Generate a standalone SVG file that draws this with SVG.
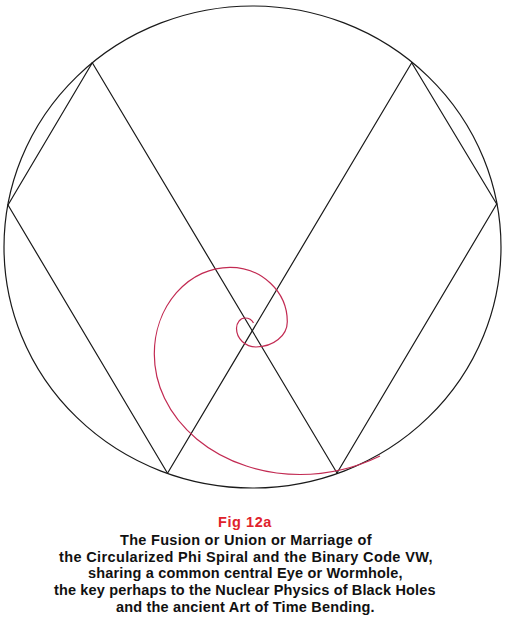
<svg xmlns="http://www.w3.org/2000/svg" width="510" height="628" viewBox="0 0 510 628">
<style>
.ln{fill:none;stroke:#1a1a1a;stroke-width:1.2;stroke-linecap:round;stroke-linejoin:round}
.sp{fill:none;stroke:#c22a52;stroke-width:1.2}
.cap{font-family:"Liberation Sans",Arial,sans-serif;font-weight:bold;font-size:14.5px;fill:#111;text-anchor:middle;letter-spacing:0.5px}
.fig{font-family:"Liberation Sans",Arial,sans-serif;font-weight:bold;font-size:14.5px;fill:#e0222c;text-anchor:middle;letter-spacing:0.6px}
</style>
<rect width="510" height="628" fill="#fff"/>
<g id="circle">
<ellipse class="ln" cx="252.5" cy="247" rx="248.5" ry="241"/>
</g>
<g id="connectors">
<line class="ln" x1="8" y1="205" x2="92.3" y2="62.7"/>
<line class="ln" x1="8" y1="205" x2="167.5" y2="473.3"/>
<line class="ln" x1="92.3" y1="62.7" x2="337" y2="473"/>
<line class="ln" x1="411.7" y1="62.7" x2="167.5" y2="473.3"/>
<line class="ln" x1="411.7" y1="62.7" x2="496.7" y2="204"/>
<line class="ln" x1="496.7" y1="204" x2="337" y2="473"/>
</g>
<g id="spiral">
<path class="sp" d="M253.5,323 Q251,318 245,318 A8.5,10.3 0 0 0 236.5,328.3 A19.5,18.7 0 0 0 256,347 A31.3,25.3 0 0 0 287.3,321.7 A57.3,54.4 0 0 0 230,267.3 A75.7,86.7 0 0 0 154.3,354 A145.7,120.5 0 0 0 300,474.5 A190,199.5 0 0 0 380,456"/>
</g>
<g id="caption">
<text class="fig" x="245" y="527" textLength="54" lengthAdjust="spacingAndGlyphs">Fig 12a</text>
<text class="cap" x="246" y="545" textLength="252" lengthAdjust="spacing">The Fusion or Union or Marriage of</text>
<text class="cap" x="246" y="561.7" textLength="374" lengthAdjust="spacing">the Circularized Phi Spiral and the Binary Code VW,</text>
<text class="cap" x="245.5" y="578.3" textLength="315" lengthAdjust="spacing">sharing a common central Eye or Wormhole,</text>
<text class="cap" x="245" y="595" textLength="382" lengthAdjust="spacing">the key perhaps to the Nuclear Physics of Black Holes</text>
<text class="cap" x="245.5" y="611.7" textLength="259" lengthAdjust="spacing">and the ancient Art of Time Bending.</text>
</g>
</svg>
